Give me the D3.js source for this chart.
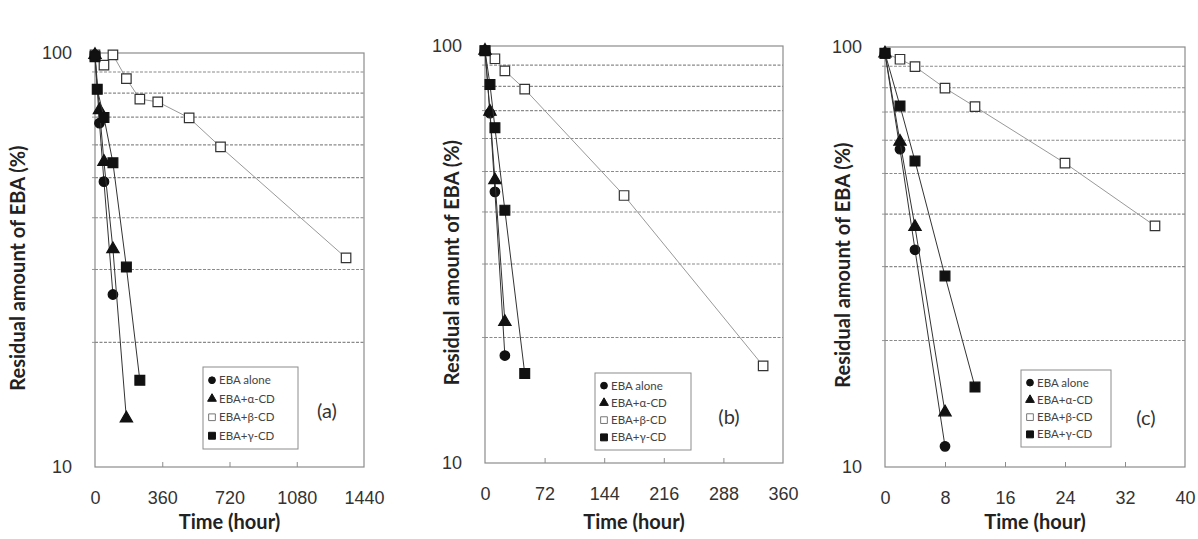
<!DOCTYPE html>
<html>
<head>
<meta charset="utf-8">
<script src="https://cdn.jsdelivr.net/npm/d3@7"></script>
<style>
  body { margin: 0; background: #fff; }
  svg { display: block; font-family: Lato, "Open Sans", sans-serif; }
  .tick-label { font-size: 18px; fill: #333; }
  .axis-title { font-size: 20px; font-weight: bold; fill: #222; }
  .legend-text { font-size: 11.5px; fill: #444; }
  .tag { font-size: 20px; fill: #333; }
</style>
</head>
<body>
<div id="chart"></div>
<script>
// series labels
var seriesNames = ["EBA alone", "EBA+α-CD", "EBA+β-CD", "EBA+γ-CD"];
var seriesKeys = ["alone", "alpha", "beta", "gamma"];

// y gridline values (log axis 10..100)
var gridValues = [20, 30, 40, 50, 60, 70, 80, 90];
var yTickValues = [10, 100];

// (a) time in hours, residual %
var ticksA = [0, 360, 720, 1080, 1440];
var aloneA = [[0, 99], [24, 67.7], [48, 48.9], [96, 26.1]];
var alphaA = [[0, 99], [24, 72.8], [48, 54.6], [96, 33.6], [168, 13.1]];
var betaA = [[0, 99], [48, 93.5], [96, 99], [168, 86.7], [240, 77.4], [336, 76.2], [504, 69.7], [672, 59.3], [1344, 32.0]];
var gammaA = [[0, 98], [12, 81.7], [48, 69.9], [96, 54.3], [168, 30.4], [240, 16.2]];

// (b)
var ticksB = [0, 72, 144, 216, 288, 360];
var aloneB = [[0, 97.5], [6, 69], [12, 44.7], [24, 18.1]];
var alphaB = [[0, 97.5], [6, 69.6], [12, 47.7], [24, 21.8]];
var betaB = [[0, 97.5], [12, 93.2], [24, 87.2], [48, 78.8], [168, 43.8], [336, 17.1]];
var gammaB = [[0, 97.4], [6, 80.9], [12, 63.7], [24, 40.4], [48, 16.4]];

// (c)
var ticksC = [0, 8, 16, 24, 32, 40];
var aloneC = [[0, 96.6], [2, 57.1], [4, 32.9], [8, 11.2]];
var alphaC = [[0, 96.6], [2, 59.5], [4, 37.3], [8, 13.5]];
var betaC = [[0, 96.6], [2, 93.5], [4, 89.8], [8, 79.8], [12, 72.1], [24, 52.9], [36, 37.5]];
var gammaC = [[0, 96.6], [2, 72.4], [4, 53.5], [8, 28.5], [12, 15.5]];

var panels = [
    {tag: "(a)", left: 95, right: 364, top: 53, bottom: 467, ticks: ticksA,
     data: {alone: aloneA, alpha: alphaA, beta: betaA, gamma: gammaA},
     legend: {x: 203, y: 367, w: 95, h: 82}, tagPos: [327, 411], titleX: 18},
    {tag: "(b)", left: 485, right: 783, top: 46, bottom: 463, ticks: ticksB,
     data: {alone: aloneB, alpha: alphaB, beta: betaB, gamma: gammaB},
     legend: {x: 595, y: 373, w: 96, h: 77}, tagPos: [729, 417], titleX: 452},
    {tag: "(c)", left: 885, right: 1185, top: 47, bottom: 467, ticks: ticksC,
     data: {alone: aloneC, alpha: alphaC, beta: betaC, gamma: gammaC},
     legend: {x: 1021, y: 370, w: 90, h: 77}, tagPos: [1146, 418], titleX: 843}
];

var markerStyle = {
    alone: {type: d3.symbolCircle, size: 72, fill: "#111", stroke: "#111", line: "#333"},
    alpha: {type: d3.symbolTriangle, size: 66, fill: "#111", stroke: "#111", line: "#333"},
    beta: {type: d3.symbolSquare, size: 90, fill: "#fff", stroke: "#333", line: "#999"},
    gamma: {type: d3.symbolSquare, size: 96, fill: "#111", stroke: "#111", line: "#333"}
};
// draw order: open squares underneath
var drawOrder = ["beta", "alone", "alpha", "gamma"];

var svg = d3.select("#chart").append("svg")
    .attr("width", 1198)
    .attr("height", 539);

panels.forEach(function(p){
    var x = d3.scaleLinear()
        .domain([p.ticks[0], p.ticks[p.ticks.length - 1]])
        .range([p.left, p.right]);
    var y = d3.scaleLog()
        .domain([10, 100])
        .range([p.bottom, p.top]);

    var g = svg.append("g");

    //gridlines
    g.selectAll(".grid").data(gridValues)
        .enter()
        .append("line")
        .attr("x1", p.left).attr("x2", p.right)
        .attr("y1", function (d) {return y(d)})
        .attr("y2", function (d) {return y(d)})
        .attr("stroke", "#8a8a8a")
        .attr("stroke-width", 1.1)
        .attr("stroke-dasharray", "3,1.5");

    // small ticks outside the left edge at gridlines
    g.selectAll(".ytick").data(gridValues)
        .enter()
        .append("line")
        .attr("x1", p.left - 3).attr("x2", p.left)
        .attr("y1", function (d) {return y(d)})
        .attr("y2", function (d) {return y(d)})
        .attr("stroke", "#999");

    //frame
    g.append("rect")
        .attr("x", p.left).attr("y", p.top)
        .attr("width", p.right - p.left)
        .attr("height", p.bottom - p.top)
        .attr("fill", "none")
        .attr("stroke", "#8c8c8c")
        .attr("stroke-width", 1.2);

    // x axis with inward ticks
    var xAxis = d3.axisBottom(x)
        .tickValues(p.ticks)
        .tickSize(-5)
        .tickPadding(24)
        .tickFormat(d3.format("d"));
    var xg = g.append("g")
        .attr("transform", "translate(0," + p.bottom + ")")
        .call(xAxis);
    xg.select(".domain").remove();
    xg.selectAll(".tick line").attr("stroke", "#8c8c8c")
        .attr("display", function (d, i) {return (i == 0 || i == p.ticks.length - 1) ? "none" : null});
    xg.selectAll(".tick text")
        .attr("class", "tick-label")
        .attr("font-family", null)
        .attr("font-size", null)
        .attr("fill", null);

    // y axis labels
    var yAxis = d3.axisLeft(y)
        .tickValues(yTickValues)
        .tickSize(0)
        .tickPadding(23)
        .tickFormat(d3.format("d"));
    var yg = g.append("g")
        .attr("transform", "translate(" + p.left + ",0)")
        .call(yAxis);
    yg.select(".domain").remove();
    yg.selectAll(".tick text")
        .attr("class", "tick-label")
        .attr("font-family", null)
        .attr("font-size", null)
        .attr("fill", null);

    // axis titles
    g.append("text")
        .attr("class", "axis-title")
        .attr("x", (p.left + p.right) / 2)
        .attr("y", 529)
        .attr("text-anchor", "middle")
        .text("Time (hour)");

    g.append("text")
        .attr("class", "axis-title")
        .attr("transform", "translate(" + (p.titleX + 7) + "," + ((p.top + p.bottom) / 2 + 8) + ") rotate(-90)")
        .attr("text-anchor", "middle")
        .text("Residual amount of EBA (%)");

    // series
    var line = d3.line()
        .x(function (d) {return x(d[0])})
        .y(function (d) {return y(d[1])});

    drawOrder.forEach(function(key){
        var st = markerStyle[key];
        var pts = p.data[key];
        g.append("path")
            .datum(pts)
            .attr("d", line)
            .attr("fill", "none")
            .attr("stroke", st.line)
            .attr("stroke-width", 1);
        g.selectAll(".m-" + key).data(pts)
            .enter()
            .append("path")
            .attr("class", "m-" + key)
            .attr("d", d3.symbol().type(st.type).size(st.size))
            .attr("transform", function (d) {return "translate(" + x(d[0]) + "," + y(d[1]) + ")"})
            .attr("fill", st.fill)
            .attr("stroke", st.stroke)
            .attr("stroke-width", 1.2);
    });

    // legend
    var lg = g.append("g");
    lg.append("rect")
        .attr("x", p.legend.x).attr("y", p.legend.y)
        .attr("width", p.legend.w).attr("height", p.legend.h)
        .attr("fill", "#fff")
        .attr("stroke", "#8c8c8c");
    var rowH = (p.legend.h - 8) / 4;
    seriesKeys.forEach(function(key, i){
        var st = markerStyle[key];
        var cy = p.legend.y + 4 + rowH * (i + 0.5);
        lg.append("path")
            .attr("d", d3.symbol().type(st.type).size(st.size * 0.5))
            .attr("transform", "translate(" + (p.legend.x + 9) + "," + cy + ")")
            .attr("fill", st.fill)
            .attr("stroke", key == "beta" ? "#777" : st.stroke)
            .attr("stroke-width", 1);
        lg.append("text")
            .attr("class", "legend-text")
            .attr("x", p.legend.x + 16)
            .attr("y", cy)
            .attr("dy", "0.35em")
            .text(seriesNames[i]);
    });

    g.append("text")
        .attr("class", "tag")
        .attr("x", p.tagPos[0])
        .attr("y", p.tagPos[1])
        .attr("dy", "0.35em")
        .attr("text-anchor", "middle")
        .text(p.tag);
});
</script>
</body>
</html>
